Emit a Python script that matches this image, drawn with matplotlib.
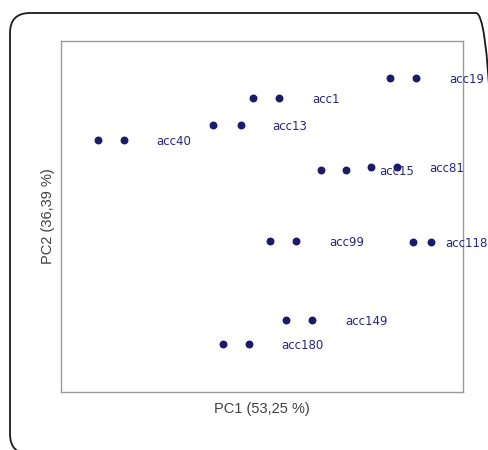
import matplotlib
matplotlib.use("Agg")
import matplotlib.pyplot as plt
from matplotlib.patches import FancyBboxPatch

# ── Data (PC scores, arbitrary units) ─────────────────────────────────────────
accessions = ["acc1", "acc13", "acc15", "acc19", "acc40",
              "acc81", "acc99", "acc118", "acc149", "acc180"]
pc1_a = [47.8, 37.8, 64.6, 81.8, 9.1, 77.0, 52.0, 87.6, 56.0, 40.2]
pc1_b = [54.3, 44.7, 70.9, 88.4, 15.6, 83.5, 58.5, 92.0, 62.5, 46.7]
pc2   = [83.8, 76.0, 63.2, 89.4, 71.9, 64.0, 43.1, 42.7, 20.6, 13.7]

DOT = "#1c1a6b"
TXT = "#26267a"

fig = plt.figure(figsize=(4.89, 4.5), dpi=100)

# background axes in pixel units, only for the rounded outer frame
bg = fig.add_axes([0, 0, 1, 1])
bg.set_xlim(0, 489)
bg.set_ylim(0, 450)
bg.axis("off")
bg.add_patch(FancyBboxPatch((10, -4), 486, 441,
                            boxstyle="round,pad=0,rounding_size=20",
                            facecolor="none", edgecolor="#1a1a1a",
                            linewidth=1.3, clip_on=True))

ax = fig.add_axes([61 / 489, 58 / 450, 402 / 489, 351 / 450])
ax.set_xlim(0, 100)
ax.set_ylim(0, 100)
ax.set_xticks([])
ax.set_yticks([])
for s in ax.spines.values():
    s.set_color("#9a9a9a")
    s.set_linewidth(1.0)

ax.scatter(pc1_a, pc2, s=22, color=DOT, zorder=3, clip_on=False)
ax.scatter(pc1_b, pc2, s=22, color=DOT, zorder=3, clip_on=False)

label_dx = {"acc118": 23}
for name, x, y in zip(accessions, pc1_a, pc2):
    ax.annotate(name, (x, y), textcoords="offset points",
                xytext=(label_dx.get(name, 42.5), -1),
                ha="left", va="center", fontsize=8.5, color=TXT,
                annotation_clip=False)

ax.set_xlabel("PC1 (53,25 %)", fontsize=10.5, color="#404040",
              family="Liberation Sans", labelpad=7)
ax.set_ylabel("PC2 (36,39 %)", fontsize=10.5, color="#404040",
              family="Liberation Sans", labelpad=4)

fig.savefig("out.png", dpi=100)
